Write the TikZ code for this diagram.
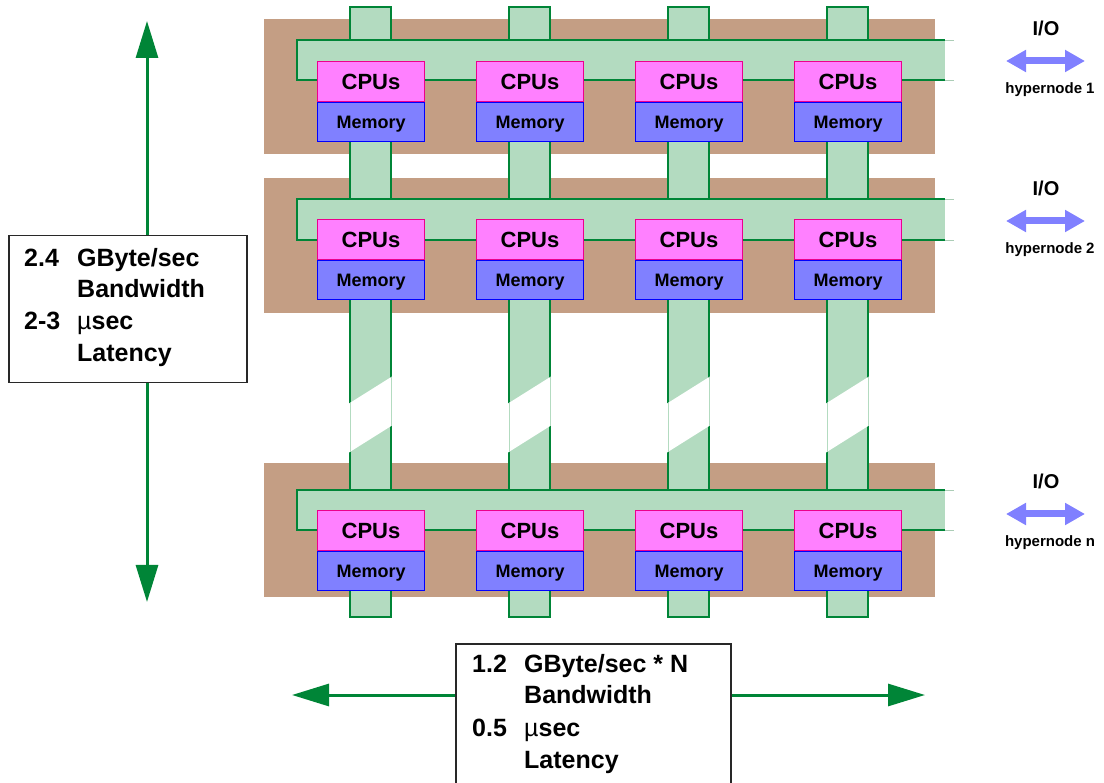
\documentclass[tikz,border=0pt]{standalone}
\usepackage{fontspec}
\setmainfont{Liberation Sans}
\usetikzlibrary{arrows.meta}

\definecolor{busgreen}{RGB}{179,219,192}
\definecolor{linegreen}{RGB}{0,133,55}
\definecolor{bandbrown}{RGB}{196,158,132}
\definecolor{cpupink}{RGB}{255,128,255}
\definecolor{memblue}{RGB}{128,128,255}
\definecolor{iolav}{RGB}{128,128,255}
\definecolor{boxgray}{RGB}{40,40,40}

\begin{document}
\begin{tikzpicture}[x=1pt,y=-1pt,
  band/.style={fill=bandbrown},
  vbus/.style={fill=busgreen,draw=linegreen,line width=2.8pt},
  hbusline/.style={draw=linegreen,line width=2.8pt},
  openend/.style={draw=busgreen!85!gray,line width=0.6pt},
  breakedge/.style={draw=busgreen,line width=0.6pt},
  cpubox/.style={fill=cpupink,draw=magenta,line width=1pt,minimum width=107pt,
    minimum height=40pt,anchor=north west,inner sep=0pt,text depth=0pt,
    font=\fontsize{22}{26}\selectfont\bfseries},
  membox/.style={fill=memblue,draw=blue,line width=1.2pt,minimum width=107pt,
    minimum height=39pt,anchor=north west,inner sep=0pt,text depth=0pt,
    font=\fontsize{18}{22}\selectfont\bfseries},
  iotext/.style={anchor=base,inner sep=0pt,font=\fontsize{20}{24}\selectfont\bfseries},
  hntext/.style={anchor=base,inner sep=0pt,font=\fontsize{15}{18}\selectfont\bfseries},
  ioarrow/.style={draw=iolav,line width=7pt,
    {Triangle[width=21pt,length=20pt]}-{Triangle[width=21pt,length=20pt]}},
  infobox/.style={draw=boxgray,line width=1.5pt,fill=white,anchor=north west,inner sep=0pt},
  infotext/.style={anchor=base west,inner sep=0pt,font=\fontsize{25}{30}\selectfont\bfseries},
  garrow/.style={draw=linegreen,line width=3pt,-{Triangle[width=22pt,length=37pt]}}
]
\useasboundingbox (0,0) rectangle (1104,783);
\clip (0,0) rectangle (1104,783);

% hypernode backplanes
\foreach \h/\bt/\bb in {1/19/154, 2/178/313, n/463/597}
  \fill[band] (264,\bt) rectangle (935,\bb);

% vertical inter-hypernode rings
\foreach \c in {350,509,668,827}
  \draw[vbus] (\c,7) rectangle (\c+41,617);

% breaks in the rings between hypernode 2 and hypernode n
\foreach \c in {350,509,668,827} {
  \fill[white] (\c-1.8,404) -- (\c+42.8,376) -- (\c+42.8,425) -- (\c-1.8,453) -- cycle;
  \draw[breakedge] (\c,403) -- (\c,452);
  \draw[breakedge] (\c+41,377) -- (\c+41,426);
}

% crossbar inside each hypernode
\foreach \ut/\ub in {40/80, 199/240, 490/530} {
  \fill[busgreen] (297,\ut) rectangle (945,\ub);
  \draw[hbusline] (945,\ut) -- (297,\ut) -- (297,\ub) -- (945,\ub);
  \draw[openend] (945,\ut) -- (954,\ut);
  \draw[openend] (945,\ub) -- (954,\ub);
}

% processor / memory modules
\foreach \h/\ct in {1/61, 2/219, n/510}
  \foreach \k/\x in {1/317, 2/476, 3/635, 4/794} {
    \node[cpubox] (cpu-\h-\k) at (\x,\ct) {CPUs};
    \node[membox] (mem-\h-\k) at (cpu-\h-\k.south west) {Memory};
  }

% I/O per hypernode
\foreach \h/\dy in {1/0, 2/160, n/453} {
  \node[iotext] (io-\h) at (1046,36+\dy) {I/O};
  \coordinate (ioL-\h) at (1006,61+\dy);
  \coordinate (ioR-\h) at (1085,61+\dy);
  \draw[ioarrow] (ioL-\h) -- (ioR-\h);
  \node[hntext] (hn-\h) at (1050,94+\dy) {hypernode \h};
}

% ring bandwidth / latency
\coordinate (uptip) at (147,21);
\coordinate (downtip) at (147,602);
\node[infobox,minimum width=238pt,minimum height=147pt] (bwbox) at (8,235) {};
\draw[garrow] (bwbox.north -| uptip) -- (uptip);
\draw[garrow] (bwbox.south -| downtip) -- (downtip);
\node[infotext] (bw-num) at (24,267) {2.4};
\node[infotext] (bw-val) at (77,267) {GByte/sec};
\node[infotext] (bw-lab) at (77,298) {Bandwidth};
\node[infotext] (lt-num) at (24,330) {2-3};
\node[infotext] (lt-val) at (77,330) {{\mdseries µ}sec};
\node[infotext] (lt-lab) at (77,362) {Latency};

% crossbar bandwidth / latency
\coordinate (lefttip) at (292,695);
\coordinate (righttip) at (925,695);
\node[infobox,minimum width=275pt,minimum height=160pt] (xbox) at (455,643) {};
\draw[garrow] (lefttip -| xbox.west) -- (lefttip);
\draw[garrow] (righttip -| xbox.east) -- (righttip);
\node[infotext] (xbw-num) at (472,672) {1.2};
\node[infotext] (xbw-val) at (524,672) {GByte/sec * N};
\node[infotext] (xbw-lab) at (524,703) {Bandwidth};
\node[infotext] (xlt-num) at (472,736) {0.5};
\node[infotext] (xlt-val) at (524,736) {{\mdseries µ}sec};
\node[infotext] (xlt-lab) at (524,768) {Latency};
\end{tikzpicture}
\end{document}
